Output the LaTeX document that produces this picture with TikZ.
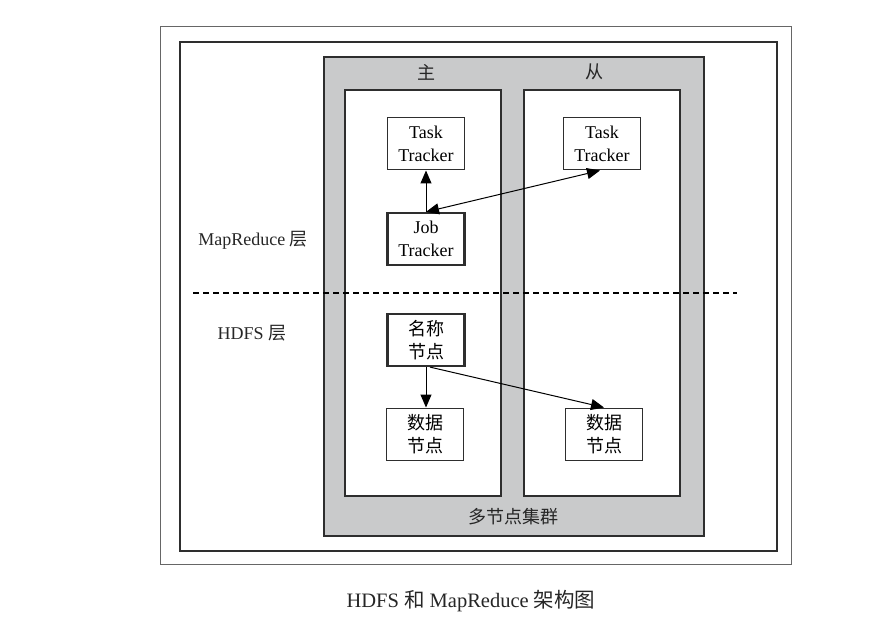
\documentclass[tikz,border=0pt]{standalone}
\usepackage{fontspec}
\setmainfont{Liberation Serif}
\newfontfamily\cjk{Noto Sans CJK SC}
\usetikzlibrary{arrows.meta,positioning}
\definecolor{clustergray}{HTML}{C9CACB}
\definecolor{linegray}{HTML}{2E2E2E}

\begin{document}
\begin{tikzpicture}[
  x=1pt, y=-1pt,
  font=\fontsize{18}{23}\selectfont,
  frame/.style={draw=linegray, line width=1.2pt},
  box/.style={draw=linegray, fill=white, line width=1pt, align=center, inner sep=0pt, minimum width=77pt, minimum height=52pt},
  master/.style={box, line width=2.2pt},
  tip/.style={Triangle[length=13pt,width=11pt]},
  arrow/.style={-{Triangle[length=13pt,width=11pt]}, line width=1pt},
  label/.style={inner sep=1pt, text=black!85},
]
\useasboundingbox (0,0) rectangle (887,623);
% frames
\draw[frame, draw=black!60, line width=0.9pt] (160,26) rectangle (791,564);
\draw[frame] (180,42) rectangle (777,551);
\draw[frame, fill=clustergray] (324,57) rectangle (704,536);
\draw[frame, fill=white] (345,90) rectangle (501,496);
\draw[frame, fill=white] (524,90) rectangle (680,496);
\draw[line width=2pt, dash pattern=on 6pt off 4pt] (193,293) -- (737,293);

% labels
\node[label] (master) at (426,72) {\cjk 主};
\node[label] (slave) at (594,72) {\cjk 从};
\node[label] (mrlayer) at (253,240) {MapReduce {\cjk 层}};
\node[label] (hdfslayer) at (252,333) {HDFS {\cjk 层}};
\node[label] (cluster) at (513,517) {\cjk 多节点集群};
\node[label, font=\fontsize{20.5}{23}\selectfont] (caption) at (471,601) {HDFS {\cjk 和} MapReduce {\cjk 架构图}};

% MapReduce layer
\node[box] (tt1) at (426,144) {Task\\Tracker};
\node[box] (tt2) at (602,144) {Task\\Tracker};
\node[master] (jt) at (426,239) {Job\\Tracker};
\draw[arrow] (jt.north) -- (tt1.south);
\draw[arrow, {Triangle[length=13pt,width=11pt]}-{Triangle[length=13pt,width=11pt]}] (jt.north) -- ([xshift=-2pt]tt2.south);

% HDFS layer
\node[master] (nn) at (426,340) {\cjk 名称\\\cjk 节点};
\node[box] (dn1) at (425,434) {\cjk 数据\\\cjk 节点};
\node[box] (dn2) at (604,434) {\cjk 数据\\\cjk 节点};
\draw[arrow] (nn.south) -- (dn1.north -| nn.south);
\draw[arrow] ([xshift=4pt]nn.south) -- (dn2.north);
\end{tikzpicture}
\end{document}
